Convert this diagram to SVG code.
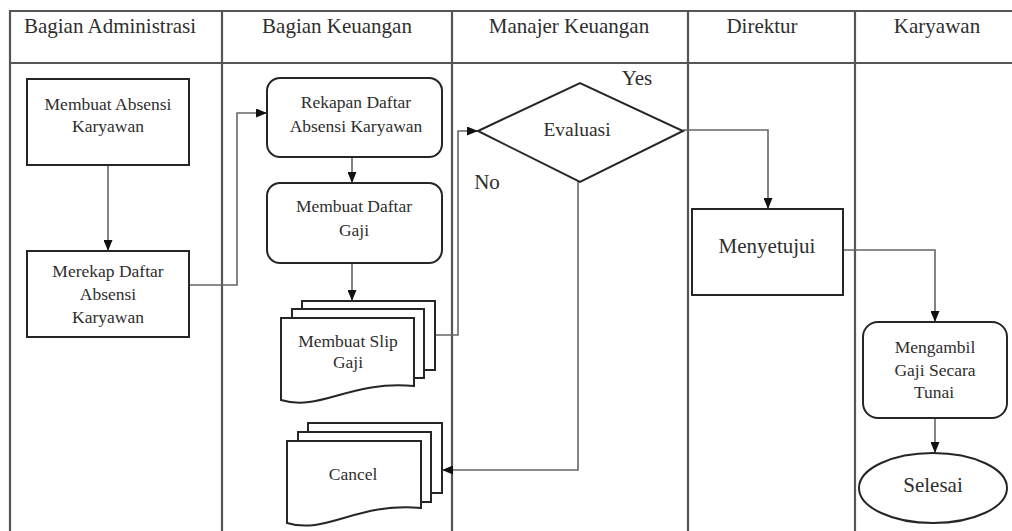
<svg xmlns="http://www.w3.org/2000/svg" width="1012" height="531" viewBox="0 0 1012 531">
<style>
  .lane { stroke: #555; stroke-width: 2.2; fill: none; }
  .node { fill: #fff; stroke: #262626; stroke-width: 2; }
  .conn { fill: none; stroke: #666; stroke-width: 1.6; }
  text { font-family: 'Liberation Serif', 'DejaVu Serif', serif; fill: #2e2e2e; text-anchor: middle; }
  .hdr { font-size: 21px; }
  .lbl { font-size: 17.5px; }
  .big { font-size: 21px; }
</style>
<defs>
  <marker id="arr" markerUnits="userSpaceOnUse" markerWidth="11" markerHeight="9" refX="11" refY="4.5" orient="auto">
    <path d="M0,0 L11,4.5 L0,9 Z" fill="#111"/>
  </marker>
</defs>
<rect width="1012" height="531" fill="#fff"/>
<g id="lanes">
  <path class="lane" d="M1012,11 H10 V531"/>
  <path class="lane" d="M10,63 H1012"/>
  <path class="lane" d="M222,11 V531 M452,11 V531 M688,11 V531 M855,11 V531"/>
  <text class="hdr" x="110" y="33">Bagian Administrasi</text>
  <text class="hdr" x="337" y="33">Bagian Keuangan</text>
  <text class="hdr" x="569" y="33">Manajer Keuangan</text>
  <text class="hdr" x="762" y="33">Direktur</text>
  <text class="hdr" x="937" y="33">Karyawan</text>
</g>
<g id="connectors">
  <path class="conn" d="M108,165 V251" marker-end="url(#arr)"/>
  <path class="conn" d="M189,285 H237 V113 H267" marker-end="url(#arr)"/>
  <path class="conn" d="M352,157 V183" marker-end="url(#arr)"/>
  <path class="conn" d="M352,263 V301" marker-end="url(#arr)"/>
  <path class="conn" d="M435,335 H458 V131 H478" marker-end="url(#arr)"/>
  <path class="conn" d="M683,130 H768 V209" marker-end="url(#arr)"/>
  <path class="conn" d="M578,182 V470 H442" marker-end="url(#arr)"/>
  <path class="conn" d="M843,250 H935 V322" marker-end="url(#arr)"/>
  <path class="conn" d="M935,418 V453" marker-end="url(#arr)"/>
  <text class="hdr" x="637" y="85">Yes</text>
  <text class="hdr" x="487" y="189">No</text>
</g>
<g id="membuat-absensi">
  <rect class="node" x="27" y="79" width="162" height="86"/>
  <text class="lbl" x="108" y="110">Membuat Absensi</text>
  <text class="lbl" x="108" y="132">Karyawan</text>
</g>
<g id="merekap-daftar">
  <rect class="node" x="27" y="251" width="162" height="86"/>
  <text class="lbl" x="108" y="277">Merekap Daftar</text>
  <text class="lbl" x="108" y="300">Absensi</text>
  <text class="lbl" x="108" y="323">Karyawan</text>
</g>
<g id="rekapan-daftar">
  <rect class="node" x="267" y="78" width="175" height="79" rx="13"/>
  <text class="lbl" x="356" y="108">Rekapan Daftar</text>
  <text class="lbl" x="356" y="132">Absensi Karyawan</text>
</g>
<g id="membuat-daftar-gaji">
  <rect class="node" x="267" y="183" width="175" height="80" rx="13"/>
  <text class="lbl" x="354" y="212">Membuat Daftar</text>
  <text class="lbl" x="354" y="236">Gaji</text>
</g>
<g id="membuat-slip-gaji">
  <rect class="node" x="302" y="301" width="133" height="69"/>
  <rect class="node" x="292" y="309" width="132" height="69"/>
  <path class="node" d="M281,318 H414 V386 C350,380 320,412 281,400 Z"/>
  <text class="lbl" x="348" y="347">Membuat Slip</text>
  <text class="lbl" x="348" y="368">Gaji</text>
</g>
<g id="cancel">
  <rect class="node" x="308" y="423" width="134" height="70"/>
  <rect class="node" x="298" y="432" width="133" height="70"/>
  <path class="node" d="M287,441 H421 V508 C357,502 326,535 287,523 Z"/>
  <text class="lbl" x="353" y="480">Cancel</text>
</g>
<g id="evaluasi">
  <path class="node" d="M478,131 L580,83 L683,131 L580,182 Z"/>
  <text x="577" y="136" style="font-size:19.5px">Evaluasi</text>
</g>
<g id="menyetujui">
  <rect class="node" x="692" y="209" width="151" height="86"/>
  <text class="big" x="767" y="253">Menyetujui</text>
</g>
<g id="mengambil-gaji">
  <rect class="node" x="863" y="322" width="144" height="96" rx="15"/>
  <text class="lbl" x="935" y="353">Mengambil</text>
  <text class="lbl" x="935" y="376">Gaji Secara</text>
  <text class="lbl" x="934" y="398">Tunai</text>
</g>
<g id="selesai">
  <ellipse class="node" cx="933" cy="488" rx="74" ry="35"/>
  <text class="big" x="933" y="492">Selesai</text>
</g>
</svg>
